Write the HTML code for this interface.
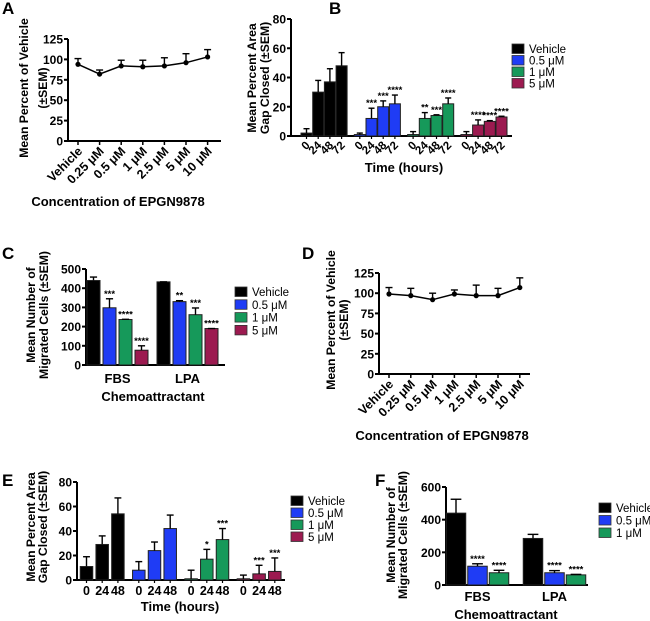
<!DOCTYPE html>
<html><head><meta charset="utf-8"><style>
html,body{margin:0;padding:0;background:#fff;}
svg{display:block;font-family:"Liberation Sans",Arial,sans-serif;}
</style></head><body>
<svg id="fig" width="650" height="621" viewBox="0 0 650 621"></svg>
<script>
// ---------- data ----------
const concCats = ['Vehicle','0.25 μM','0.5 μM','1 μM','2.5 μM','5 μM','10 μM'];
const pctTicks = [0,25,50,75,100,125];
const A_mean = [94,82,92,91,92,96,103];
const A_err  = [7,5,7,8,10,11,9];
const D_mean = [99,97,92,99,97,97,107];
const D_err  = [8,9,8,5,13,9,12];

const seriesNames = ['Vehicle','0.5 μM','1 μM','5 μM'];
const seriesColors = ['#000000','#1f3cf5','#16995a','#9c1a50'];

const B_times = ['0','24','48','72'];
const B_ticks = [0,20,40,60,80];
const B_vehicle = [2,30,37,48];   const B_vehicleErr = [3,8,9,9];
const B_half = [1,12,20,22];      const B_halfErr = [1,7,4,6];
const B_one = [1,12,14,22];       const B_oneErr = [2,4,0.5,4];
const B_five = [1,7.5,10,13];     const B_fiveErr = [2,3.5,0.5,0.5];
const B_stars = [['','','',''],['','***','***','****'],['','**','***','****'],['','****','****','****']];

const C_cats = ['FBS','LPA'];
const C_ticks = [0,100,200,300,400,500];
const C_vehicle = [440,433]; const C_vehicleErr = [18,0];
const C_half = [298,330];    const C_halfErr = [47,5];
const C_one = [237,262];     const C_oneErr = [1,35];
const C_five = [77,190];     const C_fiveErr = [23,0];
const C_stars = [['',''],['***','**'],['****','***'],['****','****']];

const E_times = ['0','24','48'];
const E_ticks = [0,20,40,60,80];
const E_vehicle = [11,29,54]; const E_vehicleErr = [8,7,13];
const E_half = [8,24,42];     const E_halfErr = [7,7,11];
const E_one = [1,17,33];      const E_oneErr = [7,8,9];
const E_five = [1,5,7];       const E_fiveErr = [3,7,11];
const E_stars = [['','',''],['','',''],['','*','***'],['','***','***']];

const F_cats = ['FBS','LPA'];
const F_ticks = [0,200,400,600];
const F_vehicle = [440,285]; const F_vehicleErr = [85,25];
const F_half = [115,75];     const F_halfErr = [15,13];
const F_one = [75,62];       const F_oneErr = [15,3];
const F_stars = [['',''],['****','****'],['****','****']];

// ---------- helpers ----------
const NS = 'http://www.w3.org/2000/svg';
const svg = document.getElementById('fig');
function mk(tag, attrs, parent){
  const e = document.createElementNS(NS, tag);
  for (const k in attrs) e.setAttribute(k, attrs[k]);
  (parent||svg).appendChild(e);
  return e;
}
function txt(s, x, y, attrs, parent){
  const t = mk('text', Object.assign({x:x, y:y}, attrs), parent);
  t.textContent = s;
  return t;
}
function panel(name){
  const g = mk('g', {});
  
  
  return g;
}
function yAxis(g, ax, yTop, yBot, ticks, max){
  const sc = v => yBot - (v/max)*(yBot-yTop);
  const ln = mk('line',{x1:ax,y1:yTop,x2:ax,y2:yBot,stroke:'#000','stroke-width':2},g);
  
  
  ticks.forEach(v=>{
    mk('line',{x1:ax-4,y1:sc(v),x2:ax,y2:sc(v),stroke:'#000','stroke-width':2},g);
    const t = txt(String(v), ax-5, sc(v)+4.5, {'text-anchor':'end','font-size':12,'font-weight':'bold'}, g);
    
    
  });
  return sc;
}
function xAxisLine(g, x1, x2, y){
  const ln = mk('line',{x1:x1-1,y1:y,x2:x2,y2:y,stroke:'#000','stroke-width':2},g);
  
  
}
function yTitle(g, lines, cxs, cy){
  lines.forEach((s,i)=>{
    const t = txt(s, 0, 0, {'text-anchor':'middle','font-size':12.2,'font-weight':'bold',transform:`translate(${cxs[i]},${cy}) rotate(-90)`}, g);
    
    
  });
}
function xTitle(g, s, cx, y){
  const t = txt(s, cx, y, {'text-anchor':'middle','font-size':13,'font-weight':'bold'}, g);
  
  
}
function letter(s, x, y){
  const t = txt(s, x, y, {'font-size':17,'font-weight':'bold'});
  
  
}
function legend(g, names, colors, x, y0, step){
  names.forEach((n,i)=>{
    const r = mk('rect',{x:x,y:y0+i*step,width:12,height:9.5,fill:colors[i],stroke:'#333','stroke-width':0.8},g);
    
    
    const t = txt(n, x+17, y0+i*step+9, {'font-size':11.5}, g);
    
    
  });
}
function errUp(g, x, yv, ye, cap){
  mk('line',{x1:x,y1:yv,x2:x,y2:ye,stroke:'#000','stroke-width':1.4},g);
  mk('line',{x1:x-cap/2,y1:ye,x2:x+cap/2,y2:ye,stroke:'#000','stroke-width':1.4},g);
}
function lineChart(name, mean, err, c){
  const g = panel(name);
  const sc = yAxis(g, c.ax, c.yTop, c.yBot, pctTicks, 125);
  xAxisLine(g, c.ax, c.xEnd, c.yBot);
  const xs = mean.map((_,i)=>c.x0 + i*c.step);
  mean.forEach((v,i)=>{ errUp(g, xs[i], sc(v), sc(v+err[i]), 7); });
  const pl = mk('polyline',{points:mean.map((v,i)=>xs[i]+','+sc(v)).join(' '),fill:'none',stroke:'#000','stroke-width':1.5},g);
  
  
  mean.forEach((v,i)=>{
    const p = mk('circle',{cx:xs[i],cy:sc(v),r:2.6,fill:'#000'},g);
    
    
    mk('line',{x1:xs[i],y1:c.yBot,x2:xs[i],y2:c.yBot+4,stroke:'#000','stroke-width':1.5},g);
    const t = txt(concCats[i], 0, 0, {'text-anchor':'end','font-size':12.5,'font-weight':'bold',transform:`translate(${xs[i]+5},${c.yBot+11}) rotate(-45)`}, g);
    
    
  });
  return g;
}
function barChart(name, c, vals, errs, colors, stars, labelFn){
  const g = panel(name);
  const sc = yAxis(g, c.ax, c.yTop, c.yBot, c.ticks, c.max);
  xAxisLine(g, c.ax, c.xEnd, c.yBot);
  vals.forEach((grp,gi)=>{
    grp.forEach((v,i)=>{
      const x = c.start + gi*c.groupStep + i*c.barStep;
      const col = colors(gi,i);
      const top = sc(v);
      const r = mk('rect',{x:x-c.barW/2,y:top,width:c.barW,height:c.yBot-top,fill:col,stroke:'#222','stroke-width':1},g);
      
      
      const ye = sc(v+errs[gi][i]);
      errUp(g, x, top, ye, c.barW*0.55);
      const s = stars[gi][i];
      if (s){
        const t = txt(s, x, ye-2, {'text-anchor':'middle','font-size':9.5,'font-weight':'bold'}, g);
        
        
      }
      if (labelFn) labelFn(g, x, gi, i);
    });
  });
  return g;
}

// ---------- Panel A ----------
letter('A', 2, 14);
const gA = lineChart('panel-a-chart', A_mean, A_err, {ax:68, yTop:39, yBot:141, xEnd:221, x0:78, step:21.6});
yTitle(gA, ['Mean Percent of Vehicle','(±SEM)'], [28,47], 88);
xTitle(gA, 'Concentration of EPGN9878', 118, 206);

// ---------- Panel B ----------
letter('B', 329, 14);
const gB = barChart('panel-b-chart',
  {ax:291, yTop:19, yBot:136, xEnd:512, ticks:B_ticks, max:80, start:306.5, groupStep:53.3, barStep:11.7, barW:11},
  [B_vehicle,B_half,B_one,B_five], [B_vehicleErr,B_halfErr,B_oneErr,B_fiveErr],
  (gi,i)=>seriesColors[gi], B_stars,
  (g,x,gi,i)=>{
    mk('line',{x1:x,y1:136,x2:x,y2:139,stroke:'#000','stroke-width':1.2},g);
    const t = txt(B_times[i], 0, 0, {'text-anchor':'end','font-size':11.5,'font-weight':'bold',transform:`translate(${x+4},${146}) rotate(-45)`}, g);
    
    
  });
yTitle(gB, ['Mean Percent Area','Gap Closed (±SEM)'], [256,269], 78);
xTitle(gB, 'Time (hours)', 404, 172);
legend(gB, seriesNames, seriesColors, 512, 44, 11.5);

// ---------- Panel C ----------
letter('C', 2, 259);
const gC = barChart('panel-c-chart',
  {ax:86, yTop:269, yBot:365, xEnd:225, ticks:C_ticks, max:500, start:93.5, groupStep:70, barStep:16, barW:13},
  C_cats.map((_,ci)=>[C_vehicle[ci],C_half[ci],C_one[ci],C_five[ci]]),
  C_cats.map((_,ci)=>[C_vehicleErr[ci],C_halfErr[ci],C_oneErr[ci],C_fiveErr[ci]]),
  (gi,i)=>seriesColors[i],
  C_cats.map((_,ci)=>[C_stars[0][ci],C_stars[1][ci],C_stars[2][ci],C_stars[3][ci]]), null);
C_cats.forEach((c,ci)=>{
  const t = txt(c, 93.5+ci*70+24, 383, {'text-anchor':'middle','font-size':13,'font-weight':'bold'}, gC);
  
  
});
yTitle(gC, ['Mean Number of','Migrated Cells (±SEM)'], [35,48], 315);
xTitle(gC, 'Chemoattractant', 153, 401);
legend(gC, seriesNames, seriesColors, 235, 287, 12.8);

// ---------- Panel D ----------
letter('D', 302, 259);
const gD = lineChart('panel-d-chart', D_mean, D_err, {ax:379, yTop:273, yBot:374, xEnd:530, x0:389, step:21.8});
yTitle(gD, ['Mean Percent of Vehicle','(±SEM)'], [335,348], 320);
xTitle(gD, 'Concentration of EPGN9878', 442, 440);

// ---------- Panel E ----------
letter('E', 2, 486);
const gE = barChart('panel-e-chart',
  {ax:77, yTop:482, yBot:580, xEnd:285, ticks:E_ticks, max:80, start:86.5, groupStep:52.3, barStep:15.7, barW:12.5},
  [E_vehicle,E_half,E_one,E_five], [E_vehicleErr,E_halfErr,E_oneErr,E_fiveErr],
  (gi,i)=>seriesColors[gi], E_stars,
  (g,x,gi,i)=>{
    mk('line',{x1:x,y1:580,x2:x,y2:583,stroke:'#000','stroke-width':1.2},g);
    const t = txt(E_times[i], x, 595, {'text-anchor':'middle','font-size':12.5,'font-weight':'bold'}, g);
    
    
  });
yTitle(gE, ['Mean Percent Area','Gap Closed (±SEM)'], [35,47], 527);
xTitle(gE, 'Time (hours)', 180, 611);
legend(gE, seriesNames, seriesColors, 291, 496, 12);

// ---------- Panel F ----------
letter('F', 375, 486);
const gF = barChart('panel-f-chart',
  {ax:446, yTop:487, yBot:585, xEnd:588, ticks:F_ticks, max:600, start:456, groupStep:77, barStep:21.5, barW:19.5},
  F_cats.map((_,ci)=>[F_vehicle[ci],F_half[ci],F_one[ci]]),
  F_cats.map((_,ci)=>[F_vehicleErr[ci],F_halfErr[ci],F_oneErr[ci]]),
  (gi,i)=>seriesColors[i],
  F_cats.map((_,ci)=>[F_stars[0][ci],F_stars[1][ci],F_stars[2][ci]]), null);
F_cats.forEach((c,ci)=>{
  const t = txt(c, 456+ci*77+21.5, 601, {'text-anchor':'middle','font-size':13,'font-weight':'bold'}, gF);
  
  
});
yTitle(gF, ['Mean Number of','Migrated Cells (±SEM)'], [395,407], 535);
xTitle(gF, 'Chemoattractant', 506, 619);
legend(gF, seriesNames.slice(0,3), seriesColors.slice(0,3), 599, 503, 12.5);
</script>
</body></html>
